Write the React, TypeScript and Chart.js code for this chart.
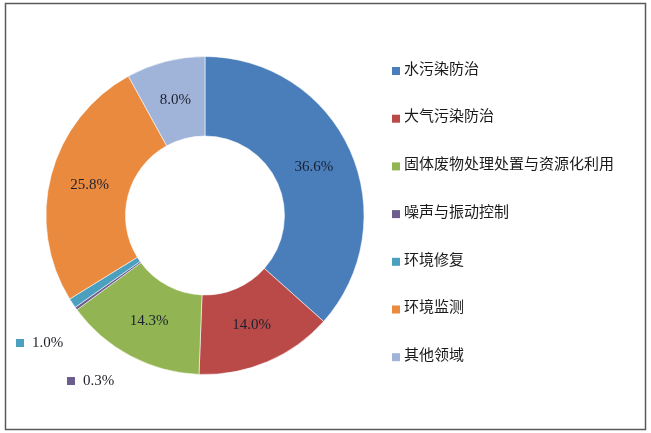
import React, { useEffect, useRef } from "react";
import { Chart, registerables } from "chart.js";

Chart.register(...registerables);

// ---- data ----
const categories = [
  "水污染防治",
  "大气污染防治",
  "固体废物处理处置与资源化利用",
  "噪声与振动控制",
  "环境修复",
  "环境监测",
  "其他领域",
];
const shares = [36.6, 14.0, 14.3, 0.3, 1.0, 25.8, 8.0];
const sliceColors = [
  "#4a7ebb",
  "#b94a48",
  "#92b453",
  "#6d5d8e",
  "#4aa0be",
  "#e98a3f",
  "#a0b3d8",
];

// slices whose labels sit outside the ring, with a key square (index -> [squareX, centerY])
const outsideLabelPos: Record<number, [number, number]> = {
  4: [16, 343],
  3: [67, 381],
};

const overlayPlugin = {
  id: "overlay",
  afterDatasetsDraw(chart: any) {
    const ctx: CanvasRenderingContext2D = chart.ctx;
    const meta = chart.getDatasetMeta(0);
    const ds = chart.data.datasets[0];
    ctx.save();

    // value labels
    ctx.font = "15px 'Liberation Serif', serif";
    ctx.textBaseline = "middle";
    meta.data.forEach((arc: any, i: number) => {
      const txt = (ds.data[i] as number).toFixed(1) + "%";
      const pos = outsideLabelPos[i];
      if (pos) {
        ctx.fillStyle = ds.backgroundColor[i];
        ctx.fillRect(pos[0], pos[1] - 4, 8, 8);
        ctx.fillStyle = "#1e1e28";
        ctx.textAlign = "left";
        ctx.fillText(txt, pos[0] + 16, pos[1]);
      } else {
        const p = arc.tooltipPosition(true);
        ctx.fillStyle = "#1b2030";
        ctx.textAlign = "center";
        ctx.fillText(txt, p.x, p.y);
      }
    });

    // legend
    ctx.font = "15px 'Noto Sans CJK SC', sans-serif";
    ctx.textAlign = "left";
    ctx.textBaseline = "middle";
    const lx = 392;
    const ly0 = 68;
    const step = 47.7;
    chart.data.labels.forEach((lab: string, i: number) => {
      const yc = ly0 + i * step;
      ctx.fillStyle = ds.backgroundColor[i];
      ctx.fillRect(lx, yc - 1, 8, 8);
      ctx.fillStyle = "#1a1a1a";
      ctx.fillText(lab, lx + 12, yc);
    });

    // frame
    ctx.strokeStyle = "#5a5a5a";
    ctx.lineWidth = 1.5;
    ctx.strokeRect(5.5, 3.5, 640, 426);
    ctx.restore();
  },
};

export default function App() {
  const canvasRef = useRef<HTMLCanvasElement | null>(null);

  useEffect(() => {
    if (!canvasRef.current) return;
    const chart = new Chart(canvasRef.current, {
      type: "doughnut",
      data: {
        labels: categories,
        datasets: [
          {
            data: shares,
            backgroundColor: sliceColors,
            borderColor: "rgba(255,255,255,0.55)",
            borderWidth: 1,
            hoverOffset: 0,
          },
        ],
      },
      options: {
        animation: false,
        responsive: true,
        maintainAspectRatio: false,
        cutout: "50%",
        radius: 159,
        events: [],
        layout: { padding: { left: 40, right: 281, top: 30, bottom: 32 } },
        plugins: {
          legend: { display: false },
          tooltip: { enabled: false },
        },
      } as any,
      plugins: [overlayPlugin],
    });
    return () => chart.destroy();
  }, []);

  return (
    <div
      style={{
        position: "absolute",
        left: 0,
        top: 0,
        width: 651,
        height: 433,
        background: "#ffffff",
      }}
    >
      <canvas ref={canvasRef} style={{ display: "block" }} />
    </div>
  );
}
